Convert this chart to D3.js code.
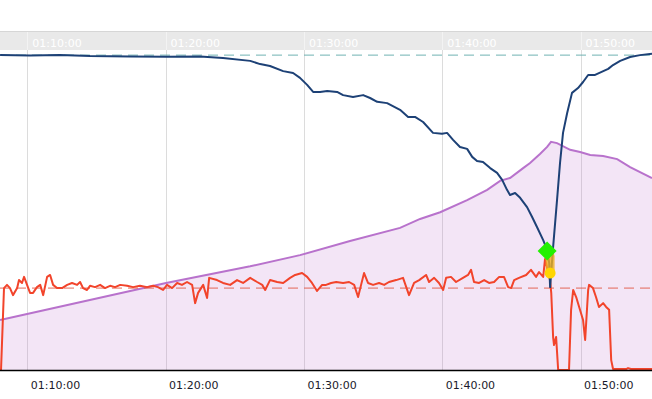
<!DOCTYPE html>
<html>
<head>
<meta charset="utf-8">
<script src="https://cdn.jsdelivr.net/npm/d3@7"></script>
<style>
    html, body { margin: 0; padding: 0; background: #fff; }
    svg { display: block; font-family: "DejaVu Sans", Verdana, sans-serif; }
</style>
</head>
<body>
<div id="chart"></div>
<script>
// time in seconds since 00:00:00, values on a 0..100 scale

const viewStart = 4081.6;
const viewEnd = 6910;

const blueTime = [4082, 4212, 4342, 4472, 4646, 4806, 4950, 5049, 5167, 5210, 5253, 5310, 5353, 5383, 5414,
    5440, 5470, 5501, 5544, 5570, 5613, 5657, 5687, 5718, 5761, 5817, 5852, 5882, 5917, 5960, 5999, 6021,
    6047, 6077, 6108, 6130, 6151, 6177, 6208, 6238, 6260, 6281, 6294, 6316, 6338, 6368, 6390, 6411, 6438,
    6455, 6464, 6468, 6481, 6498, 6511, 6524, 6542, 6563, 6589, 6611, 6633, 6663, 6720, 6741, 6772, 6815,
    6858, 6910];
const blueValue = [98.4, 98.3, 98.4, 98.1, 98.0, 97.9, 98.0, 97.5, 96.6, 95.6, 95.0, 93.4, 92.8, 91.3, 89.1,
    86.9, 86.9, 87.2, 86.9, 85.9, 85.3, 85.9, 85.0, 83.8, 83.4, 81.3, 79.1, 79.1, 77.5, 74.1, 73.8, 74.1,
    71.9, 69.7, 69.1, 66.6, 65.3, 65.0, 63.1, 61.6, 59.4, 56.3, 54.7, 55.3, 53.8, 50.9, 47.8, 44.7, 40.6,
    37.5, 33.4, 25.9, 38.4, 53.1, 64.7, 74.1, 80.3, 86.6, 88.1, 90.0, 92.2, 92.2, 94.1, 95.3, 96.6, 97.8,
    98.4, 98.8];

const redTime = [4086, 4099, 4112, 4125, 4138, 4156, 4164, 4177, 4186, 4199, 4212, 4225, 4242, 4256, 4269,
    4286, 4299, 4312, 4329, 4351, 4373, 4394, 4416, 4429, 4442, 4459, 4472, 4494, 4516, 4537, 4559, 4581,
    4603, 4633, 4659, 4689, 4720, 4746, 4767, 4789, 4806, 4828, 4850, 4871, 4893, 4915, 4928, 4941, 4963,
    4980, 4989, 5023, 5049, 5080, 5110, 5136, 5167, 5197, 5219, 5232, 5253, 5284, 5310, 5340, 5362, 5392,
    5414, 5435, 5457, 5479, 5496, 5518, 5540, 5570, 5596, 5618, 5635, 5648, 5661, 5678, 5700, 5726, 5748,
    5769, 5800, 5830, 5856, 5878, 5900, 5930, 5943, 5965, 5986, 6004, 6017, 6038, 6060, 6090, 6112, 6125,
    6138, 6160, 6182, 6203, 6225, 6247, 6268, 6286, 6299, 6312, 6333, 6364, 6385, 6407, 6420, 6438, 6446,
    6468, 6473, 6481, 6485, 6494, 6503, 6550, 6559, 6568, 6581, 6594, 6611, 6620, 6633, 6637, 6654, 6667,
    6680, 6698, 6711, 6724, 6733, 6741, 6798, 6806, 6819, 6910];
const redValue = [0, 25.6, 26.6, 25.6, 23.4, 25.6, 28.1, 27.2, 29.1, 26.6, 24.1, 24.1, 25.9, 26.6, 23.4,
    29.1, 29.7, 26.6, 25.6, 25.6, 26.6, 27.2, 26.6, 27.5, 25.6, 25.0, 26.3, 25.9, 26.6, 25.6, 26.3, 25.9,
    26.6, 26.3, 25.9, 26.3, 25.9, 26.3, 25.9, 25.0, 26.6, 25.6, 27.2, 26.6, 27.5, 26.6, 20.9, 24.1, 26.6,
    22.5, 28.8, 28.1, 27.2, 26.6, 28.1, 27.2, 28.8, 27.5, 26.6, 25.0, 28.1, 27.5, 27.2, 28.8, 29.7, 30.3,
    29.1, 27.2, 24.7, 26.6, 26.6, 27.2, 27.5, 27.2, 27.5, 26.6, 22.8, 26.6, 30.3, 27.2, 26.6, 27.2, 26.6,
    27.5, 28.1, 28.8, 23.4, 27.2, 28.1, 29.7, 27.5, 28.8, 27.2, 25.0, 28.8, 29.1, 27.5, 28.8, 29.7, 31.3,
    27.5, 27.2, 28.1, 27.2, 27.5, 29.1, 29.1, 25.9, 25.6, 28.1, 28.8, 29.7, 31.3, 29.1, 30.6, 29.1, 34.7,
    28.0, 24.0, 10.3, 7.8, 10.3, 0, 0, 18.8, 25.0, 22.8, 19.7, 15.6, 9.4, 25.0, 26.6, 25.6, 22.8,
    19.7, 20.9, 19.7, 18.8, 3.1, 0.3, 0.3, 0.6, 0.3, 0.3];

const purpleTime = [4082, 4199, 4802, 5167, 5383, 5600, 5817, 5904, 5991, 6108, 6195, 6251, 6294, 6351,
    6381, 6424, 6455, 6472, 6498, 6555, 6598, 6642, 6698, 6759, 6815, 6910];
const purpleValue = [15.6, 17.5, 27.2, 32.4, 35.9, 40.3, 44.4, 47.2, 49.3, 53.1, 56.3, 59.1, 60.0, 63.1,
    64.7, 67.5, 69.7, 71.3, 70.9, 68.8, 68.1, 67.2, 66.9, 65.9, 63.4, 60.0];

const blueLimit = 98.4;
const redLimit = 25.6;

// event markers
const diamondEvent = { t: 6455, v: 37.2 };
const rangeEvent = { t: 6468, from: 35.5, to: 30.3 };

/**
 * Layout
 */
const W = 652;
const H = 399;
const BAND_TOP = 31;
const BAND_BOTTOM = 50;
const PLOT_BOTTOM = 370;

const toDate = s => new Date(s * 1000);
const zip = (ts, vs) => ts.map((t, i) => ({ t: toDate(t), v: vs[i] }));

const x = d3.scaleUtc()
    .domain([toDate(viewStart), toDate(viewEnd)])
    .range([0, W]);
const y = d3.scaleLinear()
    .domain([0, 100])
    .range([PLOT_BOTTOM, BAND_BOTTOM]);

const svg = d3.select('#chart')
    .append('svg')
    .attr('width', W)
    .attr('height', H);

const ticks = x.ticks(d3.utcMinute.every(10));
const fmt = d3.utcFormat('%H:%M:%S');

// top band with time labels
svg.append('rect')
    .attr('x', 0)
    .attr('y', BAND_TOP)
    .attr('width', W)
    .attr('height', BAND_BOTTOM - BAND_TOP)
    .attr('fill', '#e9e9e9');
svg.append('line')
    .attr('x1', 0).attr('x2', W)
    .attr('y1', BAND_TOP + 0.5).attr('y2', BAND_TOP + 0.5)
    .attr('stroke', '#d6d6d6');

svg.append('g')
    .selectAll('line')
    .data(ticks)
    .enter()
    .append('line')
    .attr('x1', d => Math.round(x(d)) + 0.5)
    .attr('x2', d => Math.round(x(d)) + 0.5)
    .attr('y1', BAND_TOP + 1)
    .attr('y2', BAND_BOTTOM)
    .attr('stroke', '#f3f3f3');

svg.append('g')
    .selectAll('text')
    .data(ticks)
    .enter()
    .append('text')
    .attr('x', d => x(d) + 5)
    .attr('y', 46.5)
    .attr('fill', '#fff')
    .attr('font-size', 11)
    .text(d => fmt(d));

// grid
svg.append('g')
    .selectAll('line')
    .data(ticks)
    .enter()
    .append('line')
    .attr('x1', d => Math.round(x(d)) + 0.5)
    .attr('x2', d => Math.round(x(d)) + 0.5)
    .attr('y1', BAND_BOTTOM)
    .attr('y2', PLOT_BOTTOM)
    .attr('stroke', '#dcdcdc');

// purple area + line
const purple = zip(purpleTime, purpleValue);
svg.append('path')
    .datum(purple)
    .attr('d', d3.area().x(d => x(d.t)).y0(y(0)).y1(d => y(d.v)))
    .attr('fill', '#b565c9')
    .attr('fill-opacity', 0.17);
svg.append('path')
    .datum(purple)
    .attr('d', d3.line().x(d => x(d.t)).y(d => y(d.v)))
    .attr('fill', 'none')
    .attr('stroke', '#b872cc')
    .attr('stroke-width', 2);

// limits
svg.append('line')
    .attr('x1', 0).attr('x2', W)
    .attr('y1', y(blueLimit)).attr('y2', y(blueLimit))
    .attr('stroke', '#6fb2b2')
    .attr('stroke-width', 1)
    .attr('stroke-dasharray', '10,6');
svg.append('line')
    .attr('x1', 0).attr('x2', W)
    .attr('y1', y(redLimit)).attr('y2', y(redLimit))
    .attr('stroke', '#e0503c')
    .attr('stroke-opacity', 0.85)
    .attr('stroke-width', 1)
    .attr('stroke-dasharray', '10,6');

// red + blue series
const line = d3.line().x(d => x(d.t)).y(d => y(d.v));
svg.append('path')
    .datum(zip(redTime, redValue))
    .attr('d', line)
    .attr('fill', 'none')
    .attr('stroke', '#f2442b')
    .attr('stroke-width', 2)
    .attr('stroke-linejoin', 'round');
svg.append('path')
    .datum(zip(blueTime, blueValue))
    .attr('d', line)
    .attr('fill', 'none')
    .attr('stroke', '#1d4176')
    .attr('stroke-width', 2)
    .attr('stroke-linejoin', 'round');

// bottom axis
svg.append('line')
    .attr('x1', 0).attr('x2', W)
    .attr('y1', PLOT_BOTTOM + 0.5).attr('y2', PLOT_BOTTOM + 0.5)
    .attr('stroke', '#000')
    .attr('stroke-width', 1.5);
svg.append('g')
    .selectAll('text')
    .data(ticks)
    .enter()
    .append('text')
    .attr('x', d => x(d) + 3.5)
    .attr('y', 389)
    .attr('fill', '#1a1a2a')
    .attr('font-size', 11)
    .text(d => fmt(d));

// markers
const rx = x(toDate(rangeEvent.t));
svg.append('line')
    .attr('x1', rx).attr('x2', rx)
    .attr('y1', y(rangeEvent.from)).attr('y2', y(rangeEvent.to))
    .attr('stroke', '#f0b020')
    .attr('stroke-opacity', 0.8)
    .attr('stroke-width', 9)
    .attr('stroke-linecap', 'round');
svg.append('circle')
    .attr('cx', rx)
    .attr('cy', y(rangeEvent.to))
    .attr('r', 5.5)
    .attr('fill', '#ffd500');

const dx = x(toDate(diamondEvent.t));
const dy = y(diamondEvent.v);
svg.append('path')
    .attr('d', d3.symbol().type(d3.symbolSquare).size(180)())
    .attr('transform', `translate(${dx},${dy}) rotate(45)`)
    .attr('fill', '#22f000');
</script>
</body>
</html>
